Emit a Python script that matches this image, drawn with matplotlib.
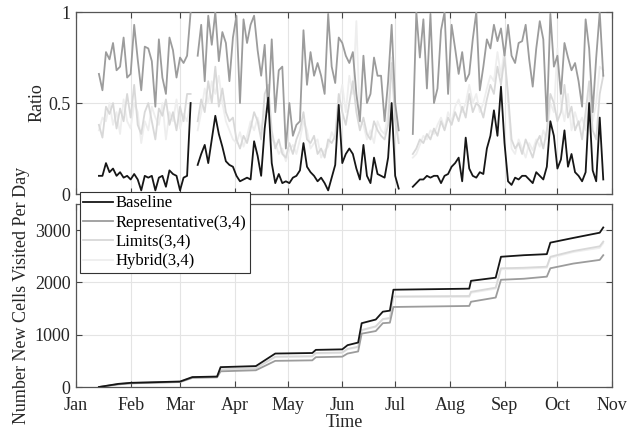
import matplotlib
matplotlib.use('Agg')
import matplotlib.pyplot as plt
import matplotlib.dates as mdates
import numpy as np

plt.rcParams['font.family'] = ['Liberation Serif', 'DejaVu Serif']
plt.rcParams['font.size'] = 13

nan = np.nan

# daily ratios, sampled every 2 days from 14 Jan
start = np.datetime64('2015-01-14')
ratio_days = start + np.arange(0, 288, 2)

baseline = [0.10, 0.10, 0.17, 0.12, 0.14, 0.10, 0.12, 0.09, 0.10, 0.08,
            0.11, 0.08, 0.02, 0.10, 0.09, 0.10, 0.02, 0.09, 0.10, 0.04,
            0.13, 0.11, 0.10, 0.02, 0.09, 0.10, 0.50, nan, 0.16, 0.22,
            0.27, 0.17, 0.30, 0.43, 0.33, 0.26, 0.18, 0.16, 0.15, 0.10,
            0.07, 0.08, 0.09, 0.08, 0.29, 0.21, 0.10, 0.36, 0.53, 0.17,
            0.06, 0.11, 0.06, 0.07, 0.06, 0.09, 0.10, 0.13, 0.28, 0.15,
            0.12, 0.10, 0.07, 0.09, 0.06, 0.02, 0.09, 0.16, 0.49, 0.17,
            0.22, 0.25, 0.22, 0.14, 0.08, 0.27, 0.10, 0.06, 0.20, 0.11,
            0.10, 0.09, 0.20, 0.50, 0.10, 0.03, nan, nan, nan, 0.04,
            0.06, 0.08, 0.08, 0.10, 0.09, 0.10, 0.10, 0.06, 0.10, 0.11,
            0.15, 0.17, 0.20, 0.07, 0.31, 0.14, 0.10, 0.09, 0.12, 0.11,
            0.25, 0.32, 0.46, 0.32, 0.59, 0.28, 0.07, 0.05, 0.09, 0.08,
            0.10, 0.10, 0.08, 0.06, 0.12, 0.10, 0.08, 0.15, 0.40, 0.32,
            0.14, 0.19, 0.35, 0.15, 0.22, 0.12, 0.10, 0.07, 0.12, 0.50,
            0.13, 0.07, 0.42, 0.08]

representative = [0.66, 0.57, 0.78, 0.74, 0.83, 0.68, 0.70, 0.86, 0.64, 0.66,
                  0.93, 0.74, 0.57, 0.81, 0.80, 0.73, 0.48, 0.85, 0.64, 0.55,
                  0.86, 0.79, 0.64, 0.75, 0.72, 0.76, 1.00, nan, 0.76, 0.93,
                  0.62, 0.98, 0.82, 1.00, 0.73, 0.89, 0.83, 0.62, 0.86, 0.98,
                  0.50, 0.96, 0.83, 0.93, 0.98, 0.79, 0.65, 0.82, 0.45, 0.85,
                  0.45, 0.68, 0.70, 0.25, 0.50, 0.32, 0.38, 0.40, 0.90, 0.60,
                  0.78, 0.65, 0.72, 0.65, 0.55, 0.99, 0.70, 0.61, 0.86, 0.83,
                  0.76, 0.72, 0.78, 0.55, 0.40, 0.76, 0.50, 0.55, 0.75, 0.65,
                  0.65, 0.40, 0.62, 0.93, 0.50, 0.35, nan, nan, nan, 0.33,
                  1.00, 0.75, 0.96, 0.58, 0.99, 0.50, 0.58, 0.90, 1.00, 0.55,
                  0.93, 0.80, 0.66, 0.78, 0.62, 0.66, 0.85, 1.00, 0.57, 0.70,
                  0.85, 0.80, 0.93, 0.84, 0.91, 0.76, 0.93, 0.76, 0.72, 0.83,
                  0.84, 0.93, 0.74, 0.59, 0.80, 0.95, 0.85, 0.40, 0.99, 0.70,
                  0.76, 0.55, 0.83, 0.75, 0.68, 0.72, 0.62, 0.48, 0.96, 0.80,
                  0.45, 0.75, 1.00, 0.65]

limits = [0.38, 0.31, 0.48, 0.44, 0.50, 0.36, 0.47, 0.40, 0.55, 0.42,
          0.60, 0.38, 0.33, 0.45, 0.50, 0.40, 0.30, 0.47, 0.43, 0.52,
          0.38, 0.45, 0.35, 0.48, 0.40, 0.55, 0.55, nan,
          0.40, 0.52, 0.45, 0.62, 0.50, 0.70, 0.48, 0.58, 0.45, 0.40,
          0.42, 0.30, 0.25, 0.32, 0.28, 0.36, 0.45, 0.40, 0.30, 0.55, 0.60,
          0.35, 0.25, 0.30, 0.22, 0.20, 0.28, 0.22, 0.30, 0.35, 0.45,
          0.30, 0.28, 0.32, 0.22, 0.25, 0.20, 0.30, 0.28, 0.32, 0.55,
          0.45, 0.38, 0.50,
          0.62, 0.45, 0.35, 0.42, 0.33, 0.30, 0.40, 0.35, 0.32, 0.30,
          0.38, 0.72, 0.40, 0.28, nan, nan, nan,
          0.22, 0.25, 0.30, 0.28, 0.33, 0.30, 0.36, 0.32, 0.40, 0.35,
          0.42, 0.38, 0.45, 0.40, 0.48, 0.42, 0.55, 0.45, 0.50, 0.48,
          0.42, 0.52, 0.60, 0.55, 0.70, 0.60, 0.75, 0.55, 0.30, 0.25, 0.28,
          0.22, 0.30, 0.25, 0.20, 0.28, 0.32, 0.25, 0.35, 0.55, 0.50,
          0.40, 0.45, 0.60, 0.42, 0.48, 0.35, 0.40, 0.30, 0.45, 0.62,
          0.35, 0.30, 0.55, 0.65]

hybrid = [0.35, 0.42, 0.40, 0.50, 0.38, 0.45, 0.33, 0.52, 0.40, 0.36,
          0.50, 0.45, 0.28, 0.40, 0.35, 0.48, 0.42, 0.38, 0.50, 0.30,
          0.45, 0.40, 0.52, 0.36, 0.44, 0.40, 0.50, nan,
          0.35, 0.45, 0.58, 0.50, 0.62, 0.55, 0.65, 0.50, 0.40, 0.35,
          0.30, 0.28, 0.34, 0.26, 0.32, 0.40, 0.35, 0.42, 0.35, 0.45, 0.50,
          0.30, 0.28, 0.22, 0.25, 0.18, 0.24, 0.27, 0.22, 0.30, 0.40,
          0.35, 0.25, 0.28, 0.30, 0.20, 0.24, 0.26, 0.34, 0.30, 0.50,
          0.60, 0.45, 0.65,
          0.55, 0.95, 0.40, 0.38, 0.30, 0.35, 0.28, 0.40, 0.35, 0.33,
          0.45, 0.75, 0.45, 0.30, nan, nan, nan,
          0.20, 0.22, 0.27, 0.32, 0.30, 0.35, 0.33, 0.38, 0.42, 0.36,
          0.45, 0.40, 0.48, 0.52, 0.45, 0.50, 0.60, 0.50, 0.55, 0.45,
          0.50, 0.58, 0.65, 0.62, 0.78, 0.65, 0.80, 0.50, 0.25, 0.22, 0.30,
          0.25, 0.20, 0.28, 0.24, 0.30, 0.26, 0.35, 0.30, 0.50, 0.45,
          0.80, 0.50, 0.40, 0.55, 0.35, 0.45, 0.38, 0.42, 0.35, 0.55,
          0.40, 0.50, 0.70, 0.68]

# cumulative new cells, breakpoints
cum_dates = np.array(['2015-01-14', '2015-01-25', '2015-02-01', '2015-03-01', '2015-03-08',
                      '2015-03-22', '2015-03-24', '2015-04-13', '2015-04-24', '2015-05-15',
                      '2015-05-17', '2015-06-01', '2015-06-04', '2015-06-10', '2015-06-12',
                      '2015-06-20', '2015-06-24', '2015-06-28', '2015-06-30', '2015-08-12',
                      '2015-08-13', '2015-08-27', '2015-08-30', '2015-09-12', '2015-09-25',
                      '2015-09-27', '2015-10-10', '2015-10-25', '2015-10-27'], dtype='datetime64[D]')
cum_baseline = [0, 60, 80, 105, 190, 200, 380, 400, 640, 650, 710, 720, 800, 850, 1220,
                1290, 1440, 1460, 1860, 1880, 2030, 2090, 2490, 2520, 2540, 2760, 2850, 2950, 3050]
cum_repr = [0, 50, 70, 95, 175, 185, 300, 320, 500, 510, 570, 580, 640, 680, 1020,
            1070, 1220, 1230, 1530, 1550, 1630, 1710, 2050, 2070, 2110, 2270, 2360, 2430, 2520]
cum_limits = [0, 55, 75, 100, 185, 195, 340, 360, 580, 590, 650, 660, 730, 770, 1090,
              1160, 1300, 1320, 1730, 1740, 1820, 1900, 2270, 2280, 2300, 2490, 2600, 2690, 2780]
cum_hybrid = [0, 55, 75, 100, 185, 192, 330, 350, 570, 580, 640, 650, 720, 760, 1080,
              1150, 1290, 1310, 1720, 1720, 1800, 1880, 2250, 2260, 2280, 2470, 2580, 2660, 2750]

names = ['Baseline', 'Representative(3,4)', 'Limits(3,4)', 'Hybrid(3,4)']
colors = ['#161616', '#9c9c9c', '#d8d8d8', '#eeeeee']

fig = plt.figure(figsize=(6.27, 4.38), dpi=100)
ax1 = fig.add_axes([0.1212, 0.557, 0.855, 0.4155])
ax2 = fig.add_axes([0.1212, 0.1164, 0.855, 0.418])

ratios = [baseline, representative, limits, hybrid]
cums = [cum_baseline, cum_repr, cum_limits, cum_hybrid]
zs = [5, 4, 3, 2]
for r, c, col, z, n in zip(ratios, cums, colors, zs, names):
    ax1.plot(ratio_days, r, color=col, lw=1.3, zorder=z)
    ax2.plot(cum_dates, c, color=col, lw=1.3, zorder=z, label=n)

xmin = np.datetime64('2015-01-01')
xmax = np.datetime64('2015-11-01')
for ax in (ax1, ax2):
    ax.set_xlim(xmin, xmax)
    ax.xaxis.set_major_locator(mdates.MonthLocator())
    ax.xaxis.set_major_formatter(mdates.DateFormatter('%b'))
    ax.grid(True, color='#e4e4e4', lw=0.8)
    ax.set_axisbelow(True)
    ax.tick_params(direction='in', top=True, right=True, length=4,
                   color='#444444', labelcolor='#262626', labelsize=13)
    ax.tick_params(axis='x', pad=7)
    ax.tick_params(axis='y', pad=4)
    for s in ax.spines.values():
        s.set_color('#555555')
        s.set_linewidth(0.9)

ax1.set_ylim(0, 1)
ax1.set_yticks([0, 0.5, 1])
ax1.set_yticklabels(['0', '0.5', '1'])
ax1.tick_params(labelbottom=False)
ax1.set_ylabel('Ratio', fontsize=13, color='#262626')
ax1.yaxis.set_label_coords(-0.057, 0.5)

ax2.set_ylim(0, 3500)
ax2.set_yticks([0, 1000, 2000, 3000])
ax2.set_xlabel('Time', fontsize=13, color='#262626', labelpad=0)
ax2.set_ylabel('Number New Cells Visited Per Day', fontsize=13, color='#262626')
ax2.yaxis.set_label_coords(-0.085, 0.5)

leg = ax2.legend(loc='upper left', bbox_to_anchor=(80 / 627, 1 - 192 / 438),
                 bbox_transform=fig.transFigure, fontsize=12, frameon=True,
                 fancybox=False, edgecolor='#333333', framealpha=1,
                 handlelength=1.8, handletextpad=0.15, labelspacing=0.2,
                 borderpad=0.2, borderaxespad=0)
leg.get_frame().set_linewidth(0.8)
leg.set_zorder(10)

fig.savefig('out.png', dpi=100)
